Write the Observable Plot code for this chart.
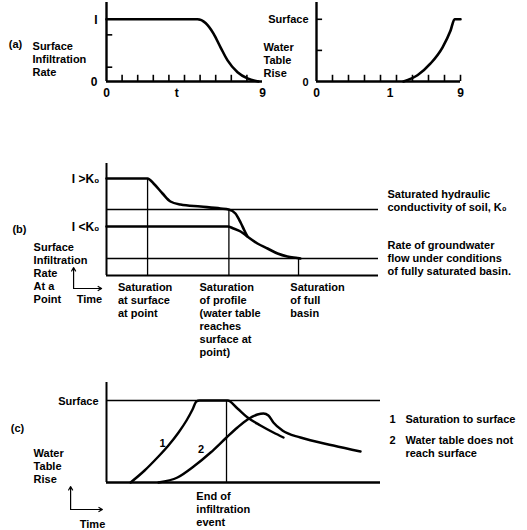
<!DOCTYPE html>
<html><head><meta charset="utf-8">
<script src="https://cdn.jsdelivr.net/npm/d3@7"></script>
<script src="https://cdn.jsdelivr.net/npm/@observablehq/plot@0.6"></script>
<style>
body{margin:0;background:#fff;}
#fig{position:relative;width:527px;height:530px;background:#fff;overflow:hidden;}
#fig > div{position:absolute;}
#fig svg{overflow:visible;}
</style></head><body><div id="fig"></div>
<script>
// ---------- DATA ----------
// Panel (a): surface infiltration rate vs time (fraction of I)
const aInfiltration = [[0,1],[5.83,1],[6.35,0.94],[6.86,0.77],[7.31,0.55],[7.76,0.34],[8.4,0.15],[9.04,0.05],[9.74,0]];
// Panel (a): water table rise vs time (fraction of surface)
const aWaterTable = [[5.44,0],[6.31,0.1],[7.13,0.29],[7.88,0.55],[8.38,0.82],[8.63,1],[9,1]];
const aLeftXTicks = [1,2,3,4,5,6,7,8,9];
const aLeftYTicks = [0.23,0.75];
const aRightXTicks = [1,2,3,4,5,6,7,8,9];
const aRightYTicks = [0.5,1];
const aLeftXLabels = [{v:0,t:"0"},{v:4.5,t:"t"},{v:10,t:"9"}];
const aRightXLabels = [{v:0,t:"0"},{v:4.6,t:"1"},{v:9,t:"9"}];

// Panel (b): infiltration rate at a point
const bUpper = [[0,9.7],[1.51,9.7],[1.73,9.2],[2.06,8.2],[2.35,7.4],[2.72,7.1],[3.46,6.9],[4.19,6.7],[4.49,6.6],[4.74,6.2],[4.93,5.3],[5.07,4.5],[5.18,3.9]];
const bLower = [[0,4.9],[4.45,4.9],[4.67,4.7],[4.93,4.4],[5.18,3.9],[5.55,3.2],[5.92,2.7],[6.29,2.2],[6.65,1.9],[7.02,1.75],[7.13,1.7]];
const bK0 = 6.6;          // saturated hydraulic conductivity
const bGroundwater = 1.7; // groundwater flow rate, fully saturated basin
const bEvents = [
  {x:1.51, top:9.7, label:"Saturation\nat surface\nat point"},
  {x:4.50, top:6.6, label:"Saturation\nof profile\n(water table\nreaches\nsurface at\npoint)"},
  {x:7.06, top:1.7, label:"Saturation\nof full\nbasin"}
];

// Panel (c): water table rise
const cCurve1 = [[0.88,0],[1.39,1.2],[1.86,2.5],[2.26,3.7],[2.63,5.0],[2.92,6.2],[3.14,7.3],[3.28,8.1],[3.39,8.2],[4.42,8.2],[4.78,7.4],[5.15,6.5],[5.62,5.7],[6.09,5.0],[6.46,4.5]];
const cCurve2 = [[1.9,0],[2.59,0.5],[3.18,1.6],[3.8,3.0],[4.38,4.5],[4.78,5.5],[5.15,6.3],[5.51,6.8],[5.73,6.9],[5.91,6.7],[6.09,6.0],[6.42,5.2],[7.08,4.5],[8.28,3.7],[9.27,3.1]];
const cSurface = 8.2;
const cEndEvent = 4.38;

// ---------- HELPERS ----------
const FONT = "'Liberation Sans', Arial, Helvetica, sans-serif";
const fig = document.getElementById("fig");
function place(chart, left, top){
  const d = document.createElement("div");
  d.style.left = left+"px"; d.style.top = top+"px";
  d.appendChild(chart); fig.appendChild(d);
}
const T = (data, o) => Plot.text(data, Object.assign({fontSize:11, fontWeight:"bold", fill:"#000", lineHeight:1.18, fontFamily:FONT}, o));
const base = {style:{fontFamily:FONT, background:"transparent", color:"#000"}};
const eventLabelOffset = [-1.09, -1.08, -0.3];

// ---------- PANEL (a) left ----------
place(Plot.plot({...base,
  width:270, height:100, marginLeft:106, marginRight:8, marginTop:2, marginBottom:19,
  x:{domain:[0,10], axis:null}, y:{domain:[0,1.27], axis:null},
  marks:[
    Plot.ruleX([0], {y1:0, y2:1.27, strokeWidth:2.4}),
    Plot.ruleY([0], {x1:0, x2:10, strokeWidth:2.4}),
    Plot.ruleX(aLeftXTicks, {x:d=>d, y1:0, y2:0.1, strokeWidth:1.6}),
    Plot.ruleY(aLeftYTicks, {y:d=>d, x1:0, x2:0.4, strokeWidth:1.6}),
    Plot.line(aInfiltration, {curve:"monotone-x", strokeWidth:2.6}),
    T(aLeftXLabels, {x:"v", y:0, text:"t", dy:11, fontSize:12}),
    T([{v:1,t:"I"},{v:0,t:"0"}], {x:0, y:"v", text:"t", dx:-9, textAnchor:"end", fontSize:12}),
    T(["(a)"], {x:-5.83, y:0.61, text:d=>d}),
    T(["Surface\nInfiltration\nRate"], {x:-4.74, y:0.37, text:d=>d, textAnchor:"start"})
  ]}), 0, 0);

// ---------- PANEL (a) right ----------
place(Plot.plot({...base,
  width:267, height:100, marginLeft:56, marginRight:67, marginTop:2, marginBottom:19,
  x:{domain:[0,9], axis:null}, y:{domain:[0,1.27], axis:null},
  marks:[
    Plot.ruleX([0], {y1:0, y2:1.27, strokeWidth:2.4}),
    Plot.ruleY([0], {x1:0, x2:9, strokeWidth:2.4}),
    Plot.ruleX(aRightXTicks, {x:d=>d, y1:0, y2:0.1, strokeWidth:1.6}),
    Plot.ruleY(aRightYTicks, {y:d=>d, x1:0, x2:0.38, strokeWidth:1.6}),
    Plot.line(aWaterTable, {curve:"monotone-x", strokeWidth:2.6}),
    T(aRightXLabels, {x:"v", y:0, text:"t", dy:11, fontSize:12}),
    T([{v:1,t:"Surface"},{v:0,t:"0"}], {x:0, y:"v", text:"t", dx:-8, textAnchor:"end"}),
    T(["Water\nTable\nRise"], {x:-3.31, y:0.355, text:d=>d, textAnchor:"start"})
  ]}), 260, 0);

// ---------- PANEL (b) ----------
place(Plot.plot({...base,
  width:527, height:215, marginLeft:106, marginRight:149, marginTop:13, marginBottom:90,
  x:{domain:[0,10], axis:null}, y:{domain:[0,11.2], axis:null},
  marks:[
    Plot.ruleY([bK0, bGroundwater], {x1:0, x2:10, strokeWidth:1.3}),
    Plot.ruleX(bEvents, {x:"x", y1:0, y2:"top", strokeWidth:1.3}),
    Plot.ruleX([0], {y1:0, y2:11.2, strokeWidth:2}),
    Plot.ruleY([0], {x1:0, x2:10, strokeWidth:2}),
    Plot.line(bUpper, {curve:"monotone-x", strokeWidth:2.6}),
    Plot.line(bLower, {curve:"monotone-x", strokeWidth:2.6}),
    T([{v:9.7,t:"I >K₀"},{v:4.9,t:"I <K₀"}], {x:0, y:"v", text:"t", dx:-7, textAnchor:"end", fontSize:12}),
    T(["(b)"], {x:-3.2, y:4.7, text:d=>d}),
    T(["Surface\nInfiltration\nRate\nAt a\nPoint"], {x:-2.68, y:0.3, text:d=>d, textAnchor:"start"}),
    Plot.arrow([{x1:-1.21,y1:-1.3,x2:-1.21,y2:0.8},{x1:-1.21,y1:-1.3,x2:-0.18,y2:-1.3}], {x1:"x1",y1:"y1",x2:"x2",y2:"y2", headLength:5, strokeWidth:1.2}),
    T(["Time"], {x:-0.63, y:-2.3, text:d=>d}),
    T(bEvents, {x:(d,i)=>d.x+eventLabelOffset[i], y:d=>-1.1 - (d.label.split("\n").length-1)*1.3/2, text:"label", textAnchor:"start"}),
    T(["Saturated hydraulic\nconductivity of soil, K₀"], {x:10.33, y:7.55, text:d=>d, textAnchor:"start"}),
    T(["Rate of groundwater\nflow under conditions\nof fully saturated basin."], {x:10.33, y:1.8, text:d=>d, textAnchor:"start"})
  ]}), 0, 150);

// ---------- PANEL (c) ----------
place(Plot.plot({...base,
  width:527, height:160, marginLeft:106, marginRight:147, marginTop:12, marginBottom:48,
  x:{domain:[0,10], axis:null}, y:{domain:[0,10], axis:null},
  marks:[
    Plot.ruleY([cSurface], {x1:0, x2:10, strokeWidth:1.6}),
    Plot.ruleX([cEndEvent], {y1:0, y2:cSurface, strokeWidth:1.3}),
    Plot.ruleX([0], {y1:0, y2:10, strokeWidth:2}),
    Plot.ruleY([0], {x1:0, x2:10, strokeWidth:2.4}),
    Plot.line(cCurve1, {curve:"monotone-x", strokeWidth:2.4}),
    Plot.line(cCurve2, {curve:"monotone-x", strokeWidth:2.4}),
    T([{x:2.05,y:4.0,t:"1"},{x:3.45,y:3.4,t:"2"}], {x:"x", y:"y", text:"t"}),
    T(["Surface"], {x:0, y:cSurface, text:d=>d, dx:-8, textAnchor:"end"}),
    T(["(c)"], {x:-3.25, y:5.5, text:d=>d}),
    T(["Water\nTable\nRise"], {x:-2.66, y:1.65, text:d=>d, textAnchor:"start"}),
    Plot.arrow([{x1:-1.31,y1:-2.7,x2:-1.31,y2:-0.4},{x1:-1.31,y1:-2.7,x2:-0.15,y2:-2.7}], {x1:"x1",y1:"y1",x2:"x2",y2:"y2", headLength:5, strokeWidth:1.2}),
    T(["Time"], {x:-0.51, y:-4.1, text:d=>d}),
    T(["End of\ninfiltration\nevent"], {x:3.28, y:-2.65, text:d=>d, textAnchor:"start"}),
    T([{y:6.4,t:"1"},{y:4.3,t:"2"}], {x:10.44, y:"y", text:"t"}),
    T(["Saturation to surface"], {x:10.91, y:6.4, text:d=>d, textAnchor:"start"}),
    T(["Water table does not\nreach surface"], {x:10.91, y:3.65, text:d=>d, textAnchor:"start"})
  ]}), 0, 370);
</script></body></html>
